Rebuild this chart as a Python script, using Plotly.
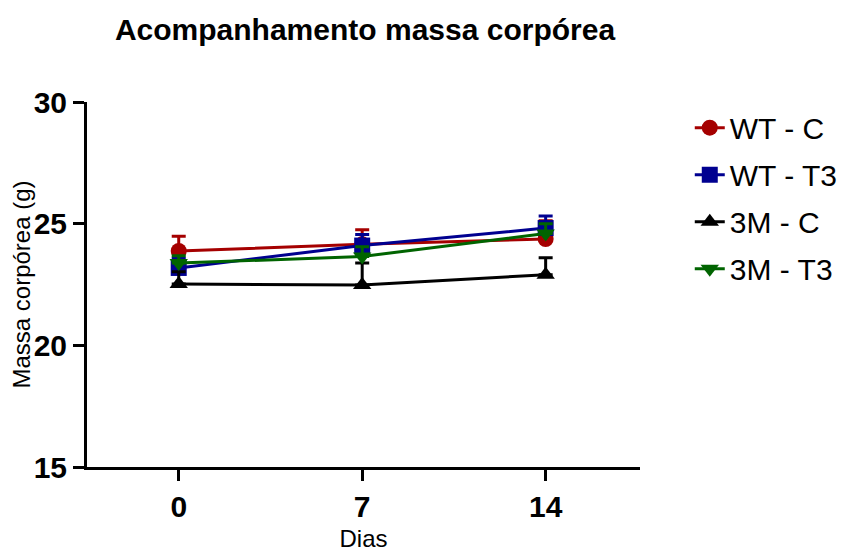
import plotly.graph_objects as go

days = [0, 7, 14]
series_names = ["WT - C", "WT - T3", "3M - C", "3M - T3"]
wt_c = [23.88, 24.15, 24.37]
wt_c_err = [0.6, 0.6, 0.75]
wt_t3 = [23.18, 24.1, 24.82]
wt_t3_err = [0.4, 0.45, 0.5]
m3_c = [22.52, 22.48, 22.9]
m3_c_err = [0.5, 0.9, 0.7]
m3_t3 = [23.38, 23.65, 24.6]
m3_t3_err = [0.3, 0.4, 0.4]

colors = ["#A50000", "#000090", "#000000", "#006400"]
symbols = ["circle", "square", "triangle-up", "triangle-down"]
values = [wt_c, wt_t3, m3_c, m3_t3]
errors = [wt_c_err, wt_t3_err, m3_c_err, m3_t3_err]

FONT = "Arial, Liberation Sans, sans-serif"

fig = go.Figure()
for name, ys, err, col, sym in zip(series_names, values, errors, colors, symbols):
    fig.add_trace(go.Scatter(
        x=days, y=ys, name=name, legendgroup=name, mode="lines+markers",
        line=dict(color=col, width=3),
        marker=dict(symbol=sym, size=16, color=col),
        error_y=dict(type="data", array=err, arrayminus=[0] * len(err),
                     symmetric=False, color=col, thickness=3, width=7),
    ))

fig.update_layout(
    width=851, height=552,
    margin=dict(l=79, r=219, t=94, b=93),
    paper_bgcolor="white", plot_bgcolor="white",
    font=dict(family=FONT, color="black"),
    title=dict(text="<b>Acompanhamento massa corpórea</b>", x=357 / 851, xanchor="center",
               y=1 - 21 / 552, yanchor="middle", font=dict(size=30, family=FONT)),
    legend=dict(x=1.09, y=1.001, xanchor="left", yanchor="top",
                font=dict(size=30, family=FONT), tracegroupgap=5,
                itemsizing="trace", bgcolor="rgba(0,0,0,0)"),
    showlegend=True,
)
fig.update_xaxes(
    range=[-3.5, 17.6], tickvals=days, ticktext=[str(d) for d in days],
    showline=True, linecolor="black", linewidth=3, ticks="outside",
    ticklen=11, tickwidth=3, tickcolor="black", showgrid=False, zeroline=False,
    automargin=False,
    tickfont=dict(size=30, family=FONT, weight="bold"),
    title=dict(text="Dias", font=dict(size=24, family=FONT), standoff=9),
)
fig.update_yaxes(
    range=[15, 30], tickvals=[15, 20, 25, 30],
    showline=True, linecolor="black", linewidth=3, ticks="outside",
    ticklen=11, tickwidth=3, tickcolor="black", showgrid=False, zeroline=False,
    automargin=False,
    tickfont=dict(size=30, family=FONT, weight="bold"),
    title=dict(text="Massa corpórea (g)", font=dict(size=24, family=FONT), standoff=10),
)

fig.write_html("out.html")
